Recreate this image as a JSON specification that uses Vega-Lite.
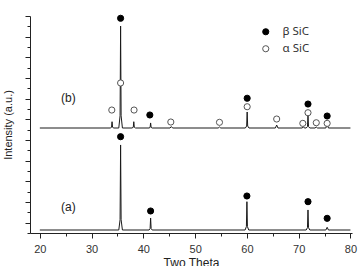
{
  "$schema": "https://vega.github.io/schema/vega-lite/v6.json",
  "autosize": "none",
  "width": 322,
  "height": 217,
  "padding": {"left": 30, "top": 16, "right": 9, "bottom": 33},
  "background": "white",
  "config": {
    "view": {"stroke": null},
    "font": "Liberation Sans",
    "axis": {"grid": false, "domainColor": "#222", "tickColor": "#222", "domainWidth": 1, "tickWidth": 1}
  },
  "datasets": {
    "scan": [
      {"pattern": "a", "theta": 20, "intensity": 0.29},
      {"pattern": "a", "theta": 35.25, "intensity": 0.29},
      {"pattern": "a", "theta": 35.5, "intensity": 1.28},
      {"pattern": "a", "theta": 35.6, "intensity": 8.52},
      {"pattern": "a", "theta": 35.7, "intensity": 1.28},
      {"pattern": "a", "theta": 35.95, "intensity": 0.29},
      {"pattern": "a", "theta": 41.1, "intensity": 0.29},
      {"pattern": "a", "theta": 41.3, "intensity": 0.43},
      {"pattern": "a", "theta": 41.4, "intensity": 1.45},
      {"pattern": "a", "theta": 41.5, "intensity": 0.43},
      {"pattern": "a", "theta": 41.7, "intensity": 0.29},
      {"pattern": "a", "theta": 59.65, "intensity": 0.29},
      {"pattern": "a", "theta": 59.9, "intensity": 0.62},
      {"pattern": "a", "theta": 60.0, "intensity": 3.03},
      {"pattern": "a", "theta": 60.1, "intensity": 0.62},
      {"pattern": "a", "theta": 60.35, "intensity": 0.29},
      {"pattern": "a", "theta": 71.45, "intensity": 0.29},
      {"pattern": "a", "theta": 71.7, "intensity": 0.52},
      {"pattern": "a", "theta": 71.8, "intensity": 2.23},
      {"pattern": "a", "theta": 71.9, "intensity": 0.52},
      {"pattern": "a", "theta": 72.15, "intensity": 0.29},
      {"pattern": "a", "theta": 75.25, "intensity": 0.29},
      {"pattern": "a", "theta": 75.5, "intensity": 0.55},
      {"pattern": "a", "theta": 75.75, "intensity": 0.29},
      {"pattern": "a", "theta": 80, "intensity": 0.29},

      {"pattern": "b", "theta": 20, "intensity": 10.16},
      {"pattern": "b", "theta": 33.6, "intensity": 10.16},
      {"pattern": "b", "theta": 33.85, "intensity": 10.23},
      {"pattern": "b", "theta": 33.95, "intensity": 10.77},
      {"pattern": "b", "theta": 34.05, "intensity": 10.23},
      {"pattern": "b", "theta": 34.3, "intensity": 10.16},
      {"pattern": "b", "theta": 35.25, "intensity": 10.16},
      {"pattern": "b", "theta": 35.5, "intensity": 11.34},
      {"pattern": "b", "theta": 35.6, "intensity": 20.03},
      {"pattern": "b", "theta": 35.7, "intensity": 11.34},
      {"pattern": "b", "theta": 35.95, "intensity": 10.16},
      {"pattern": "b", "theta": 37.8, "intensity": 10.16},
      {"pattern": "b", "theta": 38.05, "intensity": 10.23},
      {"pattern": "b", "theta": 38.15, "intensity": 10.77},
      {"pattern": "b", "theta": 38.25, "intensity": 10.23},
      {"pattern": "b", "theta": 38.5, "intensity": 10.16},
      {"pattern": "b", "theta": 41.1, "intensity": 10.16},
      {"pattern": "b", "theta": 41.3, "intensity": 10.22},
      {"pattern": "b", "theta": 41.4, "intensity": 10.65},
      {"pattern": "b", "theta": 41.5, "intensity": 10.22},
      {"pattern": "b", "theta": 41.7, "intensity": 10.16},
      {"pattern": "b", "theta": 45.15, "intensity": 10.16},
      {"pattern": "b", "theta": 45.4, "intensity": 10.3},
      {"pattern": "b", "theta": 45.65, "intensity": 10.16},
      {"pattern": "b", "theta": 54.45, "intensity": 10.16},
      {"pattern": "b", "theta": 54.7, "intensity": 10.26},
      {"pattern": "b", "theta": 54.95, "intensity": 10.16},
      {"pattern": "b", "theta": 59.7, "intensity": 10.16},
      {"pattern": "b", "theta": 59.95, "intensity": 10.35},
      {"pattern": "b", "theta": 60.05, "intensity": 11.71},
      {"pattern": "b", "theta": 60.15, "intensity": 10.35},
      {"pattern": "b", "theta": 60.4, "intensity": 10.16},
      {"pattern": "b", "theta": 65.5, "intensity": 10.16},
      {"pattern": "b", "theta": 65.75, "intensity": 10.45},
      {"pattern": "b", "theta": 66.0, "intensity": 10.16},
      {"pattern": "b", "theta": 70.7, "intensity": 10.16},
      {"pattern": "b", "theta": 70.9, "intensity": 10.3},
      {"pattern": "b", "theta": 71.1, "intensity": 10.16},
      {"pattern": "b", "theta": 71.45, "intensity": 10.16},
      {"pattern": "b", "theta": 71.7, "intensity": 10.3},
      {"pattern": "b", "theta": 71.8, "intensity": 11.42},
      {"pattern": "b", "theta": 71.9, "intensity": 10.3},
      {"pattern": "b", "theta": 72.15, "intensity": 10.16},
      {"pattern": "b", "theta": 73.15, "intensity": 10.16},
      {"pattern": "b", "theta": 73.4, "intensity": 10.25},
      {"pattern": "b", "theta": 73.65, "intensity": 10.16},
      {"pattern": "b", "theta": 75.25, "intensity": 10.16},
      {"pattern": "b", "theta": 75.5, "intensity": 10.55},
      {"pattern": "b", "theta": 75.75, "intensity": 10.16},
      {"pattern": "b", "theta": 80, "intensity": 10.16}
    ],
    "peaks": [
      {"pattern": "a", "phase": "β SiC", "theta": 35.6, "intensity": 9.32},
      {"pattern": "a", "phase": "β SiC", "theta": 41.4, "intensity": 2.13},
      {"pattern": "a", "phase": "β SiC", "theta": 60.0, "intensity": 3.58},
      {"pattern": "a", "phase": "β SiC", "theta": 71.8, "intensity": 3.03},
      {"pattern": "a", "phase": "β SiC", "theta": 75.5, "intensity": 1.42},
      {"pattern": "b", "phase": "β SiC", "theta": 35.6, "intensity": 20.78},
      {"pattern": "b", "phase": "β SiC", "theta": 41.25, "intensity": 11.42},
      {"pattern": "b", "phase": "β SiC", "theta": 60.05, "intensity": 13.04},
      {"pattern": "b", "phase": "β SiC", "theta": 71.8, "intensity": 12.48},
      {"pattern": "b", "phase": "β SiC", "theta": 75.5, "intensity": 11.32},
      {"pattern": "b", "phase": "α SiC", "theta": 33.9, "intensity": 11.9},
      {"pattern": "b", "phase": "α SiC", "theta": 35.6, "intensity": 14.52},
      {"pattern": "b", "phase": "α SiC", "theta": 38.2, "intensity": 11.9},
      {"pattern": "b", "phase": "α SiC", "theta": 45.3, "intensity": 10.74},
      {"pattern": "b", "phase": "α SiC", "theta": 54.7, "intensity": 10.71},
      {"pattern": "b", "phase": "α SiC", "theta": 60.05, "intensity": 12.22},
      {"pattern": "b", "phase": "α SiC", "theta": 65.75, "intensity": 11.03},
      {"pattern": "b", "phase": "α SiC", "theta": 70.8, "intensity": 10.61},
      {"pattern": "b", "phase": "α SiC", "theta": 71.8, "intensity": 11.64},
      {"pattern": "b", "phase": "α SiC", "theta": 73.4, "intensity": 10.67},
      {"pattern": "b", "phase": "α SiC", "theta": 75.5, "intensity": 10.61}
    ],
    "tags": [
      {"label": "(a)", "theta": 25.5, "intensity": 2.52},
      {"label": "(b)", "theta": 25.5, "intensity": 13.06}
    ]
  },
  "encoding": {
    "x": {
      "field": "theta",
      "type": "quantitative",
      "scale": {"domain": [18.1, 80.3], "nice": false, "zero": false},
      "axis": {
        "title": "Two Theta",
        "values": [20, 25, 30, 35, 40, 45, 50, 55, 60, 65, 70, 75, 80],
        "labelExpr": "datum.value % 10 === 0 ? datum.label : ''",
        "tickSize": {"condition": {"test": "datum.value % 10 === 0", "value": 5}, "value": 3},
        "labelFontSize": 11,
        "labelColor": "#333",
        "labelPadding": 5,
        "titleFontSize": 12,
        "titleFontWeight": "normal",
        "titleColor": "#222",
        "titlePadding": 3
      }
    },
    "y": {
      "field": "intensity",
      "type": "quantitative",
      "scale": {"domain": [0, 21], "nice": false, "zero": false},
      "axis": {
        "title": "Intensity (a.u.)",
        "values": [0, 1, 2, 3, 4, 5, 6, 7, 8, 9, 10, 11, 12, 13, 14, 15, 16, 17, 18, 19, 20, 21],
        "labels": false,
        "tickSize": {"condition": {"test": "datum.value % 2 === 1", "value": 5}, "value": 3},
        "titleFontSize": 11,
        "titleFontWeight": "normal",
        "titleColor": "#222",
        "titlePadding": 11
      }
    }
  },
  "layer": [
    {
      "data": {"name": "scan"},
      "mark": {"type": "line", "color": "#1a1a1a", "strokeWidth": 1, "interpolate": "linear"},
      "encoding": {"detail": {"field": "pattern"}}
    },
    {
      "data": {"name": "peaks"},
      "mark": {"type": "point", "shape": "circle", "filled": true, "size": 38, "strokeWidth": 1, "opacity": 1},
      "encoding": {
        "fill": {
          "field": "phase",
          "type": "nominal",
          "scale": {"domain": ["β SiC", "α SiC"], "range": ["#000000", "#ffffff"]},
          "legend": {
            "title": null,
            "orient": "none",
            "legendX": 230,
            "legendY": 10,
            "padding": 0,
            "rowPadding": 4,
            "labelFont": "Noto Sans",
            "labelFontSize": 11.5,
            "labelColor": "#333",
            "labelOffset": 11,
            "symbolSize": 38,
            "symbolStrokeWidth": 1
          }
        },
        "stroke": {
          "field": "phase",
          "type": "nominal",
          "scale": {"domain": ["β SiC", "α SiC"], "range": ["#000000", "#555555"]},
          "legend": null
        }
      }
    },
    {
      "data": {"name": "tags"},
      "mark": {"type": "text", "fontSize": 12, "color": "#222", "align": "center", "baseline": "middle"},
      "encoding": {"text": {"field": "label"}}
    }
  ]
}
